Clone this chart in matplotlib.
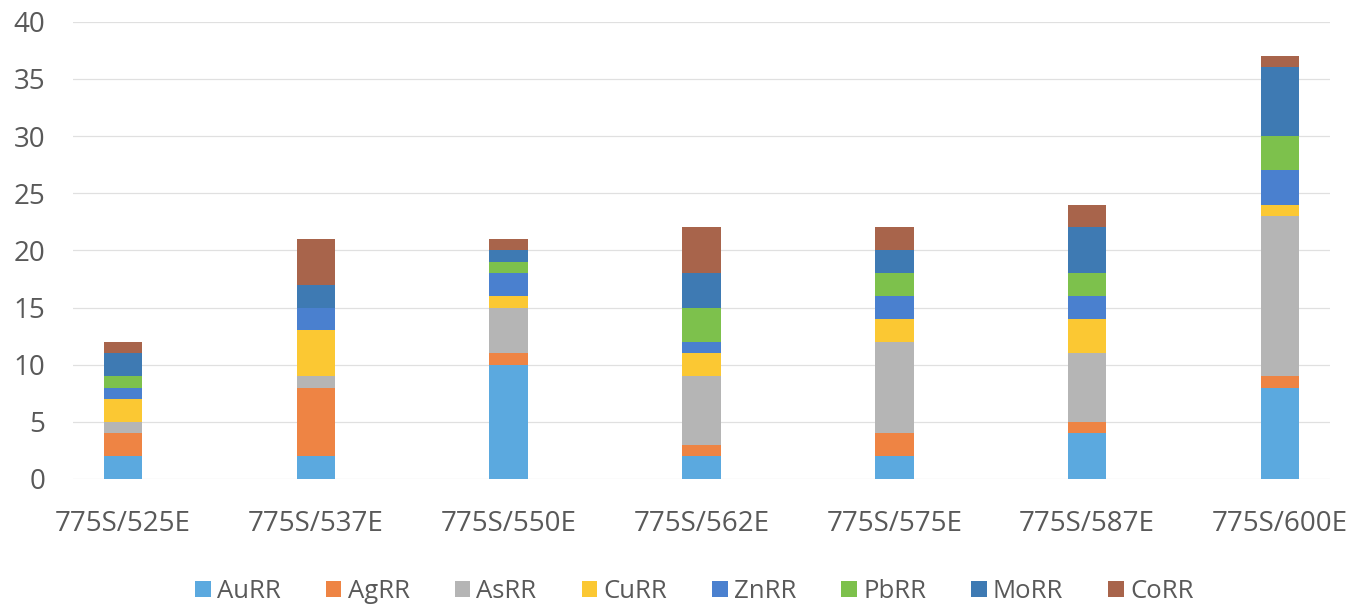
import numpy as np
import matplotlib.pyplot as plt

plt.rcParams["font.family"] = ["Open Sans", "DejaVu Sans"]

# sample stations
stations = ["775S/525E", "775S/537E", "775S/550E", "775S/562E",
            "775S/575E", "775S/587E", "775S/600E"]

# stacked element ratings per station
au_rr = [2, 2, 10, 2, 2, 4, 8]
ag_rr = [2, 6, 1, 1, 2, 1, 1]
as_rr = [1, 1, 4, 6, 8, 6, 14]
cu_rr = [2, 4, 1, 2, 2, 3, 1]
zn_rr = [1, 2, 2, 1, 2, 2, 3]
pb_rr = [1, 0, 1, 3, 2, 2, 3]
mo_rr = [2, 2, 1, 3, 2, 4, 6]
co_rr = [1, 4, 1, 4, 2, 2, 1]

series = [
    ("AuRR", au_rr, "#5ba9df"),
    ("AgRR", ag_rr, "#ee8444"),
    ("AsRR", as_rr, "#b5b5b5"),
    ("CuRR", cu_rr, "#fbc833"),
    ("ZnRR", zn_rr, "#4a80cf"),
    ("PbRR", pb_rr, "#7dc14c"),
    ("MoRR", mo_rr, "#3e7ab3"),
    ("CoRR", co_rr, "#a8644b"),
]

text_col = "#595959"

fig = plt.figure(figsize=(13.59, 6.13), dpi=100)
ax = fig.add_axes([0.0537, 0.2186, 0.925, 0.746])

x = np.arange(len(stations))
bottom = np.zeros(len(stations))
for name, vals, col in series:
    vals = np.array(vals, dtype=float)
    ax.bar(x, vals, width=0.2, bottom=bottom, color=col, label=name, zorder=3)
    bottom += vals

ax.set_ylim(0, 40)
ax.set_yticks(range(0, 41, 5))
ax.set_xlim(-0.26, 6.26)
ax.set_xticks(x)
ax.set_xticklabels(stations)
ax.grid(axis="y", color="#e0e0e0", linewidth=0.9, zorder=0)
for s in ax.spines.values():
    s.set_visible(False)
ax.tick_params(axis="y", length=0, pad=20, labelsize=20, labelcolor=text_col)
ax.tick_params(axis="x", length=0, pad=22, labelsize=20, labelcolor=text_col)

leg = fig.legend(loc="center", bbox_to_anchor=(0.511, 0.035), ncol=8,
                 frameon=False, fontsize=18.5, handlelength=0.6,
                 handleheight=0.6, handletextpad=0.25, columnspacing=1.75)
for t in leg.get_texts():
    t.set_color(text_col)

fig.savefig("out.png", dpi=100)
